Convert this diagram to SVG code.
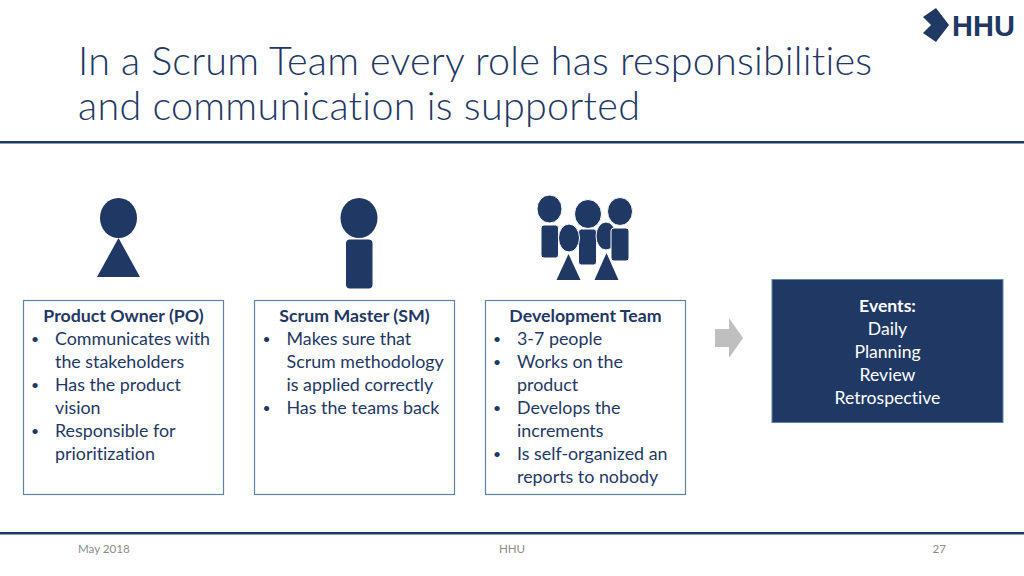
<svg xmlns="http://www.w3.org/2000/svg" width="1024" height="576" viewBox="0 0 1024 576">
<style>
text{font-family:Lato,"Open Sans","Liberation Sans",sans-serif;font-variant-ligatures:none}
.t{font-size:39.5px;font-weight:300;fill:#1f3864}
.b{font-size:17.85px;fill:#1f3864}
.d{font-size:14px;fill:#1f3864}
.h{font-size:17.75px;font-weight:700;text-anchor:middle}
.w{font-size:17.6px;fill:#fff;text-anchor:middle}
.f{font-size:11.6px;fill:#8c8c8c}
.n{fill:#1f3864}
.box{fill:#fff;stroke:#5f83a3;stroke-width:1.2}
</style>
<rect width="1024" height="576" fill="#fff"/>
<g id="logo"><path class="n" d="M936 8L949 25L936 42L923 33L931 25L923 17Z"/><text x="952" y="36" style="font-size:29px;font-weight:700;fill:#1f3864;font-family:'Liberation Sans',sans-serif">HHU</text></g>
<g id="title"><text class="t" x="78" y="75" textLength="794" lengthAdjust="spacing">In a Scrum Team every role has responsibilities</text><text class="t" x="78" y="120" textLength="562" lengthAdjust="spacing">and communication is supported</text></g>
<rect x="0" y="141" width="1024" height="2.5" fill="#1f3864"/>
<rect x="0" y="532" width="1024" height="2.5" fill="#1f3864"/>
<g id="po-icon"><ellipse class="n" cx="118.500" cy="218" rx="18.500" ry="20"/><path class="n" d="M118.500 238L140 277H97Z"/></g>
<g id="sm-icon"><ellipse class="n" cx="359" cy="218" rx="18.500" ry="20"/><rect class="n" x="346" y="239.500" width="26.500" height="49" rx="4"/></g>
<g id="team-icon" stroke="#fff" stroke-width="1">
<ellipse class="n" cx="549.500" cy="209" rx="12.500" ry="14"/><rect class="n" x="541" y="225" width="17.500" height="33" rx="3"/>
<ellipse class="n" cx="588" cy="214" rx="13.500" ry="14.500"/><rect class="n" x="578.500" y="229" width="18" height="36" rx="3"/>
<ellipse class="n" cx="606" cy="236" rx="10" ry="14"/>
<ellipse class="n" cx="620" cy="211.500" rx="12.500" ry="14"/><rect class="n" x="611" y="228" width="18" height="33" rx="3"/>
<ellipse class="n" cx="569" cy="238" rx="10.500" ry="14"/>
<path class="n" d="M568.500 254L580.500 280H556.500Z" stroke="none"/><path class="n" d="M606.500 253L618.500 280H594.500Z" stroke="none"/></g>
<g id="po"><rect class="box" x="23.500" y="300.500" width="200" height="194"/>
<text class="b h" x="123.500" y="322">Product Owner (PO)</text>
<text class="d" x="31" y="344">•</text><text class="b" x="55" y="345">Communicates with</text>
<text class="b" x="55" y="368">the stakeholders</text>
<text class="d" x="31" y="390">•</text><text class="b" x="55" y="391">Has the product</text>
<text class="b" x="55" y="414">vision</text>
<text class="d" x="31" y="436">•</text><text class="b" x="55" y="437">Responsible for</text>
<text class="b" x="55" y="460">prioritization</text></g>
<g id="sm"><rect class="box" x="254.500" y="300.500" width="200" height="194"/>
<text class="b h" x="354.500" y="322">Scrum Master (SM)</text>
<text class="d" x="262.500" y="344">•</text><text class="b" x="286.500" y="345">Makes sure that</text>
<text class="b" x="286.500" y="368">Scrum methodology</text>
<text class="b" x="286.500" y="391">is applied correctly</text>
<text class="d" x="262.500" y="413">•</text><text class="b" x="286.500" y="414">Has the teams back</text></g>
<g id="dev"><rect class="box" x="485.500" y="300.500" width="200" height="194"/>
<text class="b h" x="585.500" y="322">Development Team</text>
<text class="d" x="493" y="344">•</text><text class="b" x="517" y="345">3-7 people</text>
<text class="d" x="493" y="367">•</text><text class="b" x="517" y="368">Works on the</text>
<text class="b" x="517" y="391">product</text>
<text class="d" x="493" y="413">•</text><text class="b" x="517" y="414">Develops the</text>
<text class="b" x="517" y="437">increments</text>
<text class="d" x="493" y="459">•</text><text class="b" x="517" y="460">Is self-organized an</text>
<text class="b" x="517" y="483">reports to nobody</text></g>
<g id="connectors"><path fill="#bfbfbf" d="M715 329H729V318L743 338L729 358V347H715Z"/></g>
<g id="events"><rect x="772" y="279.500" width="231" height="143" fill="#1f3864" stroke="#5f83a3"/>
<text class="w" x="887.500" y="312" font-weight="700">Events:</text>
<text class="w" x="887.500" y="335">Daily</text>
<text class="w" x="887.500" y="358">Planning</text>
<text class="w" x="887.500" y="381">Review</text>
<text class="w" x="887.500" y="404">Retrospective</text></g>
<g id="footer"><text class="f" x="78" y="553">May 2018</text><text class="f" x="512" y="553" text-anchor="middle">HHU</text><text class="f" x="946" y="553" text-anchor="end">27</text></g>
</svg>
